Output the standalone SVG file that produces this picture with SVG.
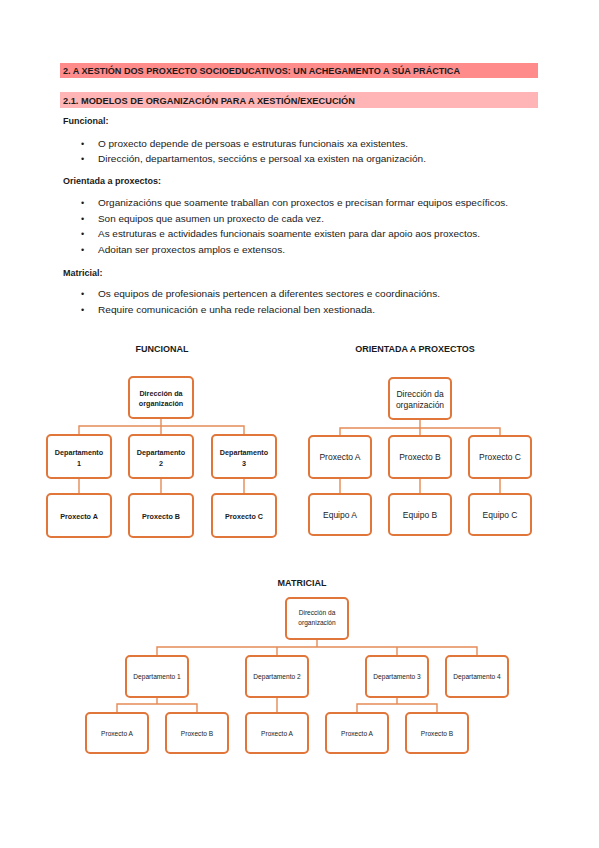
<svg xmlns="http://www.w3.org/2000/svg" width="599" height="848" viewBox="0 0 599 848">
<style>
text{font-family:"Liberation Sans",Arial,sans-serif;fill:#1a1a1a}
.h{font-size:9px;font-weight:bold}
.b{font-size:9px}
.sb{font-size:9px;font-weight:bold}
.t{font-size:9px;font-weight:bold;text-anchor:middle}
.box{fill:#fff;stroke:#E0763A;stroke-width:2}
.f{font-size:7.2px;font-weight:bold;text-anchor:middle}
.o{font-size:8.5px;text-anchor:middle}
.m{font-size:6.6px;text-anchor:middle}
.c{fill:none;stroke:#E58A55;stroke-width:1.4}
</style>
<rect width="599" height="848" fill="#fff"/>
<rect x="60" y="63" width="478" height="15" fill="#FF8B8B"/>
<rect x="60" y="92" width="478" height="16" fill="#FFB5B5"/>
<text class="h" x="63" y="74" textLength="397" lengthAdjust="spacingAndGlyphs">2. A XESTIÓN DOS PROXECTO SOCIOEDUCATIVOS: UN ACHEGAMENTO A SÚA PRÁCTICA</text>
<text class="h" x="63" y="104" textLength="292" lengthAdjust="spacingAndGlyphs">2.1. MODELOS DE ORGANIZACIÓN PARA A XESTIÓN/EXECUCIÓN</text>
<text class="sb" x="63" y="124">Funcional:</text>
<text class="b" x="81" y="147">•</text>
<text class="b" x="98" y="147" textLength="310" lengthAdjust="spacingAndGlyphs">O proxecto depende de persoas e estruturas funcionais xa existentes.</text>
<text class="b" x="81" y="162">•</text>
<text class="b" x="98" y="162" textLength="328" lengthAdjust="spacingAndGlyphs">Dirección, departamentos, seccións e persoal xa existen na organización.</text>
<text class="sb" x="63" y="184">Orientada a proxectos:</text>
<text class="b" x="81" y="206">•</text>
<text class="b" x="98" y="206" textLength="410" lengthAdjust="spacingAndGlyphs">Organizacións que soamente traballan con proxectos e precisan formar equipos específicos.</text>
<text class="b" x="81" y="222">•</text>
<text class="b" x="98" y="222" textLength="226" lengthAdjust="spacingAndGlyphs">Son equipos que asumen un proxecto de cada vez.</text>
<text class="b" x="81" y="237">•</text>
<text class="b" x="98" y="237" textLength="382" lengthAdjust="spacingAndGlyphs">As estruturas e actividades funcionais soamente existen para dar apoio aos proxectos.</text>
<text class="b" x="81" y="253">•</text>
<text class="b" x="98" y="253" textLength="187" lengthAdjust="spacingAndGlyphs">Adoitan ser proxectos amplos e extensos.</text>
<text class="sb" x="63" y="276">Matricial:</text>
<text class="b" x="81" y="297">•</text>
<text class="b" x="98" y="297" textLength="342" lengthAdjust="spacingAndGlyphs">Os equipos de profesionais pertencen a diferentes sectores e coordinacións.</text>
<text class="b" x="81" y="313">•</text>
<text class="b" x="98" y="313" textLength="277" lengthAdjust="spacingAndGlyphs">Require comunicación e unha rede relacional ben xestionada.</text>

<text class="t" x="162" y="352">FUNCIONAL</text>
<text class="t" x="415" y="352">ORIENTADA A PROXECTOS</text>
<text class="t" x="302" y="586">MATRICIAL</text>

<g id="connectors">
<path class="c" d="M161 418V426M79 435V426H244V435M161 426V435"/>
<path class="c" d="M79 478V494M161 478V494M244 478V494"/>
<path class="c" d="M420 419V428M340 436V428H500V436M420 428V436"/>
<path class="c" d="M340 478V494M420 478V494M500 478V494"/>
<path class="c" d="M317 639V647M157 656V647H477V656M277 647V656M397 647V656"/>
<path class="c" d="M157 697V704M117 713V704H197V713M277 697V713M397 697V704M357 713V704H437V713"/>
</g>

<g id="f-dir"><rect class="box" x="129" y="377" width="64" height="41" rx="4"/><text class="f" x="161" y="396">Dirección da</text><text class="f" x="161" y="406">organización</text></g>
<g id="f-d1"><rect class="box" x="47" y="435" width="64" height="43" rx="4"/><text class="f" x="79" y="455">Departamento</text><text class="f" x="79" y="466">1</text></g>
<g id="f-d2"><rect class="box" x="129" y="435" width="64" height="43" rx="4"/><text class="f" x="161" y="455">Departamento</text><text class="f" x="161" y="466">2</text></g>
<g id="f-d3"><rect class="box" x="212" y="435" width="64" height="43" rx="4"/><text class="f" x="244" y="455">Departamento</text><text class="f" x="244" y="466">3</text></g>
<g id="f-pa"><rect class="box" x="47" y="494" width="64" height="43" rx="4"/><text class="f" x="79" y="519">Proxecto A</text></g>
<g id="f-pb"><rect class="box" x="129" y="494" width="64" height="43" rx="4"/><text class="f" x="161" y="519">Proxecto B</text></g>
<g id="f-pc"><rect class="box" x="212" y="494" width="64" height="43" rx="4"/><text class="f" x="244" y="519">Proxecto C</text></g>

<g id="o-dir"><rect class="box" x="389" y="378" width="62" height="41" rx="4"/><text class="o" x="420" y="397">Dirección da</text><text class="o" x="420" y="408">organización</text></g>
<g id="o-pa"><rect class="box" x="309" y="436" width="62" height="42" rx="4"/><text class="o" x="340" y="460">Proxecto A</text></g>
<g id="o-pb"><rect class="box" x="389" y="436" width="62" height="42" rx="4"/><text class="o" x="420" y="460">Proxecto B</text></g>
<g id="o-pc"><rect class="box" x="469" y="436" width="62" height="42" rx="4"/><text class="o" x="500" y="460">Proxecto C</text></g>
<g id="o-ea"><rect class="box" x="309" y="494" width="62" height="41" rx="4"/><text class="o" x="340" y="518">Equipo A</text></g>
<g id="o-eb"><rect class="box" x="389" y="494" width="62" height="41" rx="4"/><text class="o" x="420" y="518">Equipo B</text></g>
<g id="o-ec"><rect class="box" x="469" y="494" width="62" height="41" rx="4"/><text class="o" x="500" y="518">Equipo C</text></g>

<g id="m-dir"><rect class="box" x="286" y="598" width="62" height="41" rx="4"/><text class="m" x="317" y="615">Dirección da</text><text class="m" x="317" y="625">organización</text></g>
<g id="m-d1"><rect class="box" x="126" y="656" width="62" height="41" rx="4"/><text class="m" x="157" y="679">Departamento 1</text></g>
<g id="m-d2"><rect class="box" x="246" y="656" width="62" height="41" rx="4"/><text class="m" x="277" y="679">Departamento 2</text></g>
<g id="m-d3"><rect class="box" x="366" y="656" width="62" height="41" rx="4"/><text class="m" x="397" y="679">Departamento 3</text></g>
<g id="m-d4"><rect class="box" x="446" y="656" width="62" height="41" rx="4"/><text class="m" x="477" y="679">Departamento 4</text></g>
<g id="m-d1a"><rect class="box" x="86" y="713" width="62" height="40" rx="4"/><text class="m" x="117" y="736">Proxecto A</text></g>
<g id="m-d1b"><rect class="box" x="166" y="713" width="62" height="40" rx="4"/><text class="m" x="197" y="736">Proxecto B</text></g>
<g id="m-d2a"><rect class="box" x="246" y="713" width="62" height="40" rx="4"/><text class="m" x="277" y="736">Proxecto A</text></g>
<g id="m-d3a"><rect class="box" x="326" y="713" width="62" height="40" rx="4"/><text class="m" x="357" y="736">Proxecto A</text></g>
<g id="m-d3b"><rect class="box" x="406" y="713" width="62" height="40" rx="4"/><text class="m" x="437" y="736">Proxecto B</text></g>
</svg>
